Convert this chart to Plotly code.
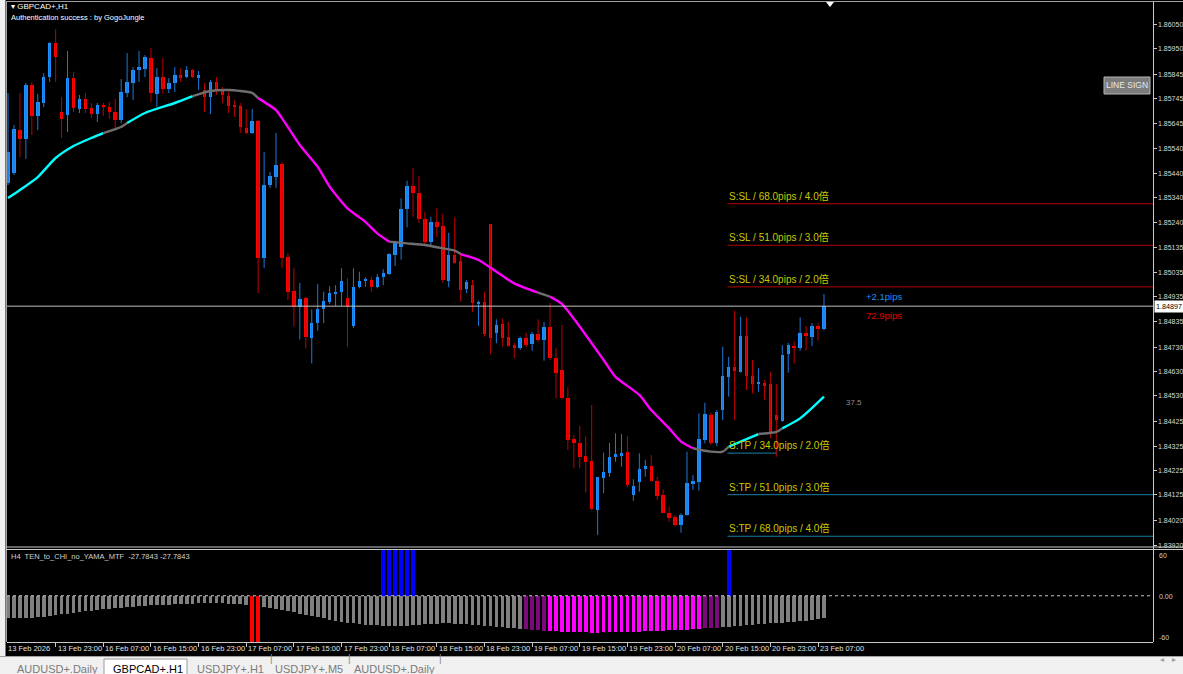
import plotly.graph_objects as go

# ---------------- data ----------------
tick_labels = ["13 Feb 2026", "13 Feb 23:00", "16 Feb 07:00", "16 Feb 15:00", "16 Feb 23:00",
               "17 Feb 07:00", "17 Feb 15:00", "17 Feb 23:00", "18 Feb 07:00", "18 Feb 15:00",
               "18 Feb 23:00", "19 Feb 07:00", "19 Feb 15:00", "19 Feb 23:00", "20 Feb 07:00",
               "20 Feb 15:00", "20 Feb 23:00", "23 Feb 07:00"]
tick_bars = [0, 8, 16, 24, 32, 40, 48, 56, 64, 72, 80, 88, 96, 104, 112, 120, 128, 136]

opens = [1.85401, 1.85442, 1.85617, 1.85581, 1.85801, 1.85675, 1.85728, 1.85834, 1.85973, 1.85691,
         1.85679, 1.85830, 1.85703, 1.85744, 1.85707, 1.85683, 1.85720, 1.85711, 1.85691, 1.85658,
         1.85769, 1.85810, 1.85863, 1.85867, 1.85912, 1.85765, 1.85834, 1.85785, 1.85810, 1.85842,
         1.85834, 1.85863, 1.85834, 1.85781, 1.85752, 1.85814, 1.85785, 1.85756, 1.85720, 1.85716,
         1.85626, 1.85605, 1.85654, 1.85094, 1.85392, 1.85425, 1.85478, 1.85098, 1.84960, 1.84895,
         1.84929, 1.84765, 1.84829, 1.84884, 1.84915, 1.84947, 1.84955, 1.84929, 1.84816, 1.84974,
         1.85001, 1.85004, 1.84976, 1.85017, 1.85028, 1.85106, 1.85138, 1.85293, 1.85388, 1.85361,
         1.85253, 1.85161, 1.85242, 1.85225, 1.85001, 1.85106, 1.85082, 1.84966, 1.84983, 1.84909,
         1.84915, 1.85233, 1.84788, 1.84824, 1.84770, 1.84738, 1.84727, 1.84765, 1.84742, 1.84783,
         1.84758, 1.84810, 1.84684, 1.84636, 1.84520, 1.84352, 1.84336, 1.84284, 1.84265, 1.84063,
         1.84193, 1.84216, 1.84279, 1.84284, 1.84302, 1.84125, 1.84179, 1.84230, 1.84243, 1.84183,
         1.84125, 1.84050, 1.84033, 1.84002, 1.84043, 1.84170, 1.84179, 1.84349, 1.84452, 1.84336,
         1.84472, 1.84608, 1.84649, 1.84629, 1.84775, 1.84611, 1.84579, 1.84581, 1.84579, 1.84452,
         1.84428, 1.84701, 1.84734, 1.84724, 1.84786, 1.84772, 1.84816, 1.84802]
highs = [1.85769, 1.85638, 1.85769, 1.85810, 1.85814, 1.85765, 1.85850, 1.85977, 1.86030, 1.85752,
         1.85941, 1.85855, 1.85761, 1.85769, 1.85728, 1.85728, 1.85728, 1.85732, 1.85744, 1.85826,
         1.85932, 1.85875, 1.85941, 1.85924, 1.85953, 1.85871, 1.85912, 1.85830, 1.85875, 1.85871,
         1.85879, 1.85867, 1.85859, 1.85810, 1.85822, 1.85834, 1.85793, 1.85773, 1.85740, 1.85728,
         1.85703, 1.85703, 1.85658, 1.85527, 1.85446, 1.85605, 1.85487, 1.85114, 1.85052, 1.84993,
         1.84935, 1.84884, 1.84987, 1.84956, 1.84979, 1.84983, 1.85052, 1.85011, 1.85052, 1.85038,
         1.85015, 1.85017, 1.85028, 1.85048, 1.85113, 1.85165, 1.85338, 1.85410, 1.85461, 1.85429,
         1.85283, 1.85263, 1.85297, 1.85274, 1.85197, 1.85260, 1.85113, 1.85004, 1.85004, 1.84919,
         1.84956, 1.85233, 1.84843, 1.84847, 1.84833, 1.84747, 1.84772, 1.84788, 1.84792, 1.84843,
         1.84833, 1.84909, 1.84726, 1.84820, 1.84565, 1.84370, 1.84407, 1.84363, 1.84493, 1.84198,
         1.84298, 1.84338, 1.84377, 1.84374, 1.84366, 1.84189, 1.84295, 1.84268, 1.84288, 1.84199,
         1.84148, 1.84077, 1.84043, 1.84050, 1.84302, 1.84206, 1.84459, 1.84502, 1.84461, 1.84472,
         1.84731, 1.84690, 1.84878, 1.84854, 1.84851, 1.84677, 1.84643, 1.84595, 1.84629, 1.84579,
         1.84738, 1.84747, 1.84752, 1.84851, 1.84816, 1.84827, 1.84827, 1.84947]
lows = [1.85392, 1.85433, 1.85507, 1.85499, 1.85597, 1.85617, 1.85711, 1.85814, 1.85814, 1.85585,
        1.85609, 1.85691, 1.85687, 1.85687, 1.85666, 1.85650, 1.85675, 1.85663, 1.85626, 1.85646,
        1.85752, 1.85740, 1.85814, 1.85834, 1.85732, 1.85711, 1.85765, 1.85769, 1.85773, 1.85814,
        1.85830, 1.85830, 1.85781, 1.85691, 1.85683, 1.85761, 1.85728, 1.85687, 1.85671, 1.85605,
        1.85601, 1.85601, 1.84951, 1.85053, 1.85381, 1.85381, 1.85053, 1.84922, 1.84813, 1.84761,
        1.84724, 1.84663, 1.84797, 1.84827, 1.84906, 1.84898, 1.84898, 1.84731, 1.84808, 1.84970,
        1.84976, 1.84956, 1.84970, 1.84983, 1.85024, 1.85061, 1.85087, 1.85219, 1.85263, 1.85238,
        1.85151, 1.85147, 1.85179, 1.84993, 1.84974, 1.85072, 1.84915, 1.84950, 1.84874, 1.84816,
        1.84772, 1.84701, 1.84745, 1.84731, 1.84731, 1.84684, 1.84718, 1.84729, 1.84715, 1.84751,
        1.84674, 1.84677, 1.84520, 1.84515, 1.84309, 1.84234, 1.84234, 1.84134, 1.84063, 1.83961,
        1.84132, 1.84199, 1.84261, 1.84240, 1.84158, 1.84101, 1.84138, 1.84199, 1.84179, 1.84104,
        1.84050, 1.84015, 1.83995, 1.83970, 1.84040, 1.84145, 1.84142, 1.84336, 1.84330, 1.84325,
        1.84431, 1.84527, 1.84431, 1.84625, 1.84554, 1.84540, 1.84547, 1.84513, 1.84356, 1.84281,
        1.84424, 1.84625, 1.84663, 1.84715, 1.84715, 1.84734, 1.84756, 1.84797]
closes = [1.85527, 1.85621, 1.85581, 1.85801, 1.85675, 1.85732, 1.85834, 1.85973, 1.85916, 1.85663,
          1.85830, 1.85707, 1.85744, 1.85703, 1.85683, 1.85720, 1.85711, 1.85691, 1.85658, 1.85773,
          1.85814, 1.85863, 1.85875, 1.85916, 1.85769, 1.85834, 1.85785, 1.85810, 1.85842, 1.85834,
          1.85863, 1.85834, 1.85842, 1.85752, 1.85814, 1.85781, 1.85761, 1.85716, 1.85711, 1.85630,
          1.85605, 1.85654, 1.85094, 1.85392, 1.85429, 1.85474, 1.85094, 1.84955, 1.84892, 1.84926,
          1.84770, 1.84829, 1.84884, 1.84919, 1.84950, 1.84956, 1.85001, 1.84895, 1.84976, 1.84998,
          1.85007, 1.84976, 1.85017, 1.85034, 1.85110, 1.85154, 1.85293, 1.85388, 1.85361, 1.85253,
          1.85161, 1.85242, 1.85222, 1.85004, 1.85106, 1.85075, 1.84963, 1.84997, 1.84909, 1.84915,
          1.84783, 1.84765, 1.84820, 1.84765, 1.84734, 1.84727, 1.84765, 1.84738, 1.84783, 1.84758,
          1.84810, 1.84684, 1.84625, 1.84520, 1.84349, 1.84336, 1.84281, 1.84261, 1.84066, 1.84197,
          1.84220, 1.84281, 1.84292, 1.84298, 1.84165, 1.84161, 1.84231, 1.84243, 1.84182, 1.84120,
          1.84052, 1.84029, 1.84002, 1.84043, 1.84172, 1.84183, 1.84352, 1.84456, 1.84336, 1.84465,
          1.84611, 1.84649, 1.84633, 1.84775, 1.84611, 1.84579, 1.84585, 1.84574, 1.84374, 1.84431,
          1.84697, 1.84738, 1.84724, 1.84786, 1.84779, 1.84816, 1.84802, 1.84897]

# moving average (read at selected bars) and its colour state per segment
ma_bars = [0, 2, 5, 8, 11, 14, 16, 19, 20, 23, 28, 31, 34, 37, 41, 42, 45, 46, 49, 52, 54, 57, 60,
           62, 64, 67, 70, 72, 75, 76, 79, 82, 85, 89, 91, 93, 96, 100, 102, 106, 108, 111, 113,
           115, 118, 120, 121, 123, 126, 129, 130, 133, 137]
ma_vals = [1.85339, 1.85372, 1.85425, 1.85503, 1.85552, 1.85585, 1.85605, 1.85630, 1.85646, 1.85687,
           1.85728, 1.85756, 1.85777, 1.85781, 1.85769, 1.85748, 1.85699, 1.85666, 1.85556, 1.85467,
           1.85386, 1.85297, 1.85242, 1.85195, 1.85161, 1.85154, 1.85147, 1.85138, 1.85124, 1.85110,
           1.85086, 1.85038, 1.84990, 1.84952, 1.84936, 1.84906, 1.84813, 1.84677, 1.84608, 1.84534,
           1.84472, 1.84397, 1.84343, 1.84316, 1.84302, 1.84302, 1.84322, 1.84343, 1.84374, 1.84383,
           1.84397, 1.84438, 1.84527]
ma_segments = [(0, 16, "up"), (16, 20, "flat"), (20, 31, "up"), (31, 42, "flat"), (42, 64, "down"),
               (64, 76, "flat"), (76, 89, "down"), (89, 91, "flat"), (91, 115, "down"),
               (115, 121, "flat"), (121, 126, "up"), (126, 130, "flat"), (130, 137, "up")]

# TEN_to_CHI_no_YAMA_MTF histogram
hist_vals = [-28, -28, -28, -28, -27.8, -27.5, -26.5, -25.5, -24.5, -23.5,
             -22.5, -21.5, -20.5, -19.5, -18.6, -17.8, -17, -16.2, -15.5, -14.8,
             -14.1, -13.5, -12.9, -12.4, -11.9, -11.5, -11.1, -10.7, -10.3, -10,
             -9.7, -9.4, -9.2, -9.0, -9.0, -9.1, -9.3, -9.6, -10, -10.5,
             -11, -11.8, -12.7, -13.8, -15, -16.3, -17.7, -19.2, -20.8, -22.4,
             -24, -25.6, -27.2, -28.8, -30.3, -31.7, -33, -34.2, -35.2, -36,
             -36.7, -37.3, -37.8, -38.2, -38.5, -38.6, -38.5, -38.2, -37.6, -37,
             -36.4, -35.9, -35.5, -35.3, -35.3, -35.5, -35.8, -36.2, -36.7, -37.3,
             -38, -38.7, -39.4, -40.1, -40.8, -41.5, -42.2, -42.9, -43.5, -44.1,
             -44.6, -45.1, -45.6, -46, -46.4, -46.7, -46.9, -47, -47.1, -47.1,
             -47, -46.9, -46.8, -46.6, -46.4, -46.2, -46, -45.7, -45.4, -45.1,
             -44.8, -44.4, -44, -43.6, -43.2, -42.7, -42.2, -41.7, -41.2, -40.6,
             -40, -39.4, -38.8, -38.2, -37.6, -37, -36.4, -35.8, -35.2, -35,
             -34.5, -34, -33.3, -32.5, -31.5, -30.5, -29.5, -27.7843]
hist_segments = [(87, 90, "weak"), (91, 116, "strong"), (117, 119, "weak")]
sell_signal_bars = [41, 42]
buy_signal_bars = [63, 64, 65, 66, 67, 68, 121]

price_ticks = [1.86050, 1.85950, 1.85845, 1.85745, 1.85645, 1.85540, 1.85440, 1.85340, 1.85240,
               1.85135, 1.85035, 1.84935, 1.84835, 1.84730, 1.84630, 1.84530, 1.84425, 1.84325,
               1.84225, 1.84125, 1.84020, 1.83920]
current_price = 1.84897
entry_price = 1.84636
entry_bar = 120.8
level_pips = [34.0, 51.0, 68.0]
level_mult = [2.0, 3.0, 4.0]
tabs = ["AUDUSD+.Daily", "GBPCAD+.H1", "USDJPY+.H1", "USDJPY+.M5", "AUDUSD+.Daily"]

# ---------------- geometry / style ----------------
W, H = 1183, 674
LM, RM, TM, BM = 7, 30, 3, 32
PW, PH = W - LM - RM, H - TM - BM
BAR_PX, FIRST_PX = 5.956, 8.0
x_range = [(LM - FIRST_PX) / BAR_PX, (W - RM - FIRST_PX) / BAR_PX]
y_range = [1.83912, 1.86137]
FONT = "Liberation Sans, Noto Sans CJK JP, sans-serif"


def px_x(x):
    return (x - LM) / PW


def px_y(y):
    return (H - BM - y) / PH


UP, DN = "#1E90FF", "#FF0000"
UP_W, DN_W = "#1E78D8", "#C00000"
MA_COL = {"up": "#00FFFF", "flat": "#6E6E6E", "down": "#FF00FF"}

n = len(opens)
idx = list(range(n))
fig = go.Figure()

# wicks
for col, up in ((UP_W, True), (DN_W, False)):
    xs, ys = [], []
    for i in idx:
        if (closes[i] >= opens[i]) == up:
            xs += [i, i, None]
            ys += [lows[i], highs[i], None]
    fig.add_trace(go.Scatter(x=xs, y=ys, mode="lines", line=dict(color=col, width=1),
                             hoverinfo="skip", xaxis="x", yaxis="y"))

# bodies
for col, up in ((UP, True), (DN, False)):
    sel = [i for i in idx if (closes[i] >= opens[i]) == up]
    fig.add_trace(go.Bar(
        x=sel,
        y=[max(abs(closes[i] - opens[i]), 0.000025) for i in sel],
        base=[min(opens[i], closes[i]) for i in sel],
        width=0.58, marker=dict(color=col, line=dict(width=0)),
        hoverinfo="skip", xaxis="x", yaxis="y"))

# moving average
for s, e, st in ma_segments:
    xs = [b for b in ma_bars if s <= b <= e]
    ys = [v for b, v in zip(ma_bars, ma_vals) if s <= b <= e]
    fig.add_trace(go.Scatter(x=xs, y=ys, mode="lines",
                             line=dict(color=MA_COL[st], width=2.4, shape="spline", smoothing=0.6),
                             hoverinfo="skip", xaxis="x", yaxis="y"))

# indicator histogram
hcol = ["#808080"] * n
for s, e, st in hist_segments:
    for i in range(s, e + 1):
        hcol[i] = "#FF00FF" if st == "strong" else "#7A0A7A"
fig.add_trace(go.Bar(x=idx, y=hist_vals, width=0.62, marker=dict(color=hcol, line=dict(width=0)),
                     hoverinfo="skip", xaxis="x", yaxis="y2"))
fig.add_trace(go.Bar(x=sell_signal_bars, y=[-60] * len(sell_signal_bars), width=0.62,
                     marker=dict(color="#FF0000", line=dict(width=0)), hoverinfo="skip",
                     xaxis="x", yaxis="y2"))
fig.add_trace(go.Bar(x=buy_signal_bars, y=[60] * len(buy_signal_bars), width=0.62,
                     marker=dict(color="#0000FF", line=dict(width=0)), hoverinfo="skip",
                     xaxis="x", yaxis="y2"))

shapes = []
ann = []
GRID = "#C8C8C8"

# SL / TP levels
for p, m in zip(level_pips, level_mult):
    sl = entry_price + p * 0.0001
    tp = entry_price - p * 0.0001
    shapes.append(dict(type="line", xref="x", yref="y", x0=entry_bar, x1=x_range[1], y0=sl, y1=sl,
                       line=dict(color="#B40000", width=1)))
    tp_end = x_range[1] if m > 2.0 else 129
    shapes.append(dict(type="line", xref="x", yref="y", x0=entry_bar, x1=tp_end, y0=tp, y1=tp,
                       line=dict(color="#1C7FA6", width=1)))
    for lvl, tag in ((sl, "S:SL"), (tp, "S:TP")):
        ann.append(dict(xref="x", yref="y", x=entry_bar, y=lvl, xanchor="left", yanchor="bottom",
                        yshift=0, showarrow=False,
                        text=f"{tag} / {p:.1f}pips / {m:.1f}倍",
                        font=dict(family=FONT, size=10, color="#C8C800")))

# current price line + label
shapes.append(dict(type="line", xref="paper", yref="y", x0=0, x1=1, y0=current_price, y1=current_price,
                   line=dict(color="#C0C0C0", width=1)))
ann.append(dict(xref="paper", yref="y", x=px_x(1154), y=current_price, xanchor="left", yanchor="middle",
                showarrow=False, text=f"{current_price:.5f}", bgcolor="#FFFFFF",
                font=dict(family=FONT, size=7.2, color="#000000"), borderpad=1))
ann.append(dict(xref="x", yref="y", x=143.8, y=current_price, xanchor="left", yanchor="bottom",
                yshift=2, showarrow=False, text="+2.1pips",
                font=dict(family=FONT, size=9.5, color="#1E90FF")))
ann.append(dict(xref="x", yref="y", x=143.8, y=current_price, xanchor="left", yanchor="top",
                yshift=-2, showarrow=False, text="72.9pips",
                font=dict(family=FONT, size=9.5, color="#E00000")))
ann.append(dict(xref="x", yref="y", x=140.4, y=1.84501, xanchor="left", yanchor="middle",
                showarrow=False, text="37.5", font=dict(family=FONT, size=8, color="#8C8C8C")))

# price scale labels
for v in price_ticks:
    ann.append(dict(xref="paper", yref="y", x=px_x(1156.5), y=v, xanchor="left", yanchor="middle",
                    showarrow=False, text=f"{v:.5f}", borderpad=0,
                    font=dict(family=FONT, size=7, color="#D8D8D8")))

# frame lines
shapes += [
    dict(type="rect", xref="paper", yref="paper", x0=px_x(0), x1=px_x(5.5), y0=px_y(656), y1=px_y(0),
         fillcolor="#F0F0F0", line=dict(width=0), layer="above"),
    dict(type="line", xref="paper", yref="paper", x0=px_x(6.5), x1=px_x(6.5), y0=px_y(642), y1=px_y(1.5),
         line=dict(color="#A0A0A0", width=1)),
    dict(type="line", xref="paper", yref="paper", x0=px_x(6), x1=px_x(1183), y0=px_y(1.5), y1=px_y(1.5),
         line=dict(color="#A0A0A0", width=1)),
    dict(type="line", xref="paper", yref="paper", x0=px_x(6), x1=px_x(1183), y0=px_y(547), y1=px_y(547),
         line=dict(color=GRID, width=1)),
    dict(type="line", xref="paper", yref="paper", x0=px_x(6), x1=px_x(1183), y0=px_y(549.5), y1=px_y(549.5),
         line=dict(color=GRID, width=1)),
    dict(type="line", xref="paper", yref="paper", x0=px_x(1153.5), x1=px_x(1153.5), y0=px_y(642), y1=px_y(2),
         line=dict(color=GRID, width=1)),
    dict(type="line", xref="paper", yref="y2", x0=0, x1=1, y0=0, y1=0,
         line=dict(color="#C8C8C8", width=1, dash="dot")),
    # chart shift marker
    dict(type="path", xref="paper", yref="paper",
         path=f"M {px_x(826)} {px_y(2)} L {px_x(834)} {px_y(2)} L {px_x(830)} {px_y(7)} Z",
         fillcolor="#FFFFFF", line=dict(width=0)),
    # tab bar
    dict(type="rect", xref="paper", yref="paper", x0=px_x(0), x1=px_x(1183), y0=px_y(674), y1=px_y(657),
         fillcolor="#F0F0F0", line=dict(width=0), layer="above"),
    dict(type="line", xref="paper", yref="paper", x0=px_x(0), x1=px_x(1183), y0=px_y(656.5), y1=px_y(656.5),
         line=dict(color="#A0A0A0", width=1)),
    dict(type="rect", xref="paper", yref="paper", x0=px_x(104), x1=px_x(187), y0=px_y(675), y1=px_y(659),
         fillcolor="#FFFFFF", line=dict(color="#9A9A9A", width=1), layer="above"),
    # LINE SIGN button
    dict(type="rect", xref="paper", yref="paper", x0=px_x(1104), x1=px_x(1150), y0=px_y(94), y1=px_y(77),
         fillcolor="#7C7C7C", line=dict(color="#B4B4B4", width=1), layer="above"),
]
ann.append(dict(xref="paper", yref="paper", x=px_x(1127), y=px_y(85.5), xanchor="center", yanchor="middle",
                showarrow=False, text="LINE SIGN",
                font=dict(family=FONT, size=8.5, color="#E8E8E8")))

# header texts
ann.append(dict(xref="paper", yref="paper", x=px_x(9), y=px_y(7), xanchor="left", yanchor="middle",
                showarrow=False, text="▾ GBPCAD+,H1", font=dict(family=FONT, size=8, color="#FFFFFF")))
ann.append(dict(xref="paper", yref="paper", x=px_x(9), y=px_y(17.5), xanchor="left", yanchor="middle",
                showarrow=False, text="Authentication success : by GogoJungle",
                font=dict(family=FONT, size=7.5, color="#FFFFFF")))
ann.append(dict(xref="paper", yref="paper", x=px_x(9), y=px_y(556), xanchor="left", yanchor="middle",
                showarrow=False, text="H4  TEN_to_CHI_no_YAMA_MTF  -27.7843 -27.7843",
                font=dict(family=FONT, size=7.5, color="#D0D0D0")))

# indicator scale labels
for v, yy in ((60, 555), (0, 596), (-60, 637)):
    ann.append(dict(xref="paper", yref="paper", x=px_x(1157), y=px_y(yy), xanchor="left", yanchor="middle",
                    showarrow=False, text=("0.00" if v == 0 else str(v)),
                    font=dict(family=FONT, size=7, color="#D0D0D0")))

# time labels
for b, t in zip(tick_bars, tick_labels):
    ann.append(dict(xref="x", yref="paper", x=b, y=px_y(648.5), xanchor="left", yanchor="middle",
                    xshift=(-2 if b == 0 else 0), showarrow=False, text=t,
                    font=dict(family=FONT, size=7.5, color="#E0E0E0")))

# tabs
tab_x = [15, 111, 195, 273, 352]
for k, (t, tx) in enumerate(zip(tabs, tab_x)):
    ann.append(dict(xref="paper", yref="paper", x=px_x(tx), y=px_y(668.5), xanchor="left", yanchor="middle",
                    showarrow=False, text=t,
                    font=dict(family=FONT, size=11, color=("#000000" if k == 1 else "#7A7A7A"))))
for sx in (268, 346, 440):
    ann.append(dict(xref="paper", yref="paper", x=px_x(sx), y=px_y(666), showarrow=False, text="|",
                    font=dict(family=FONT, size=10, color="#8A8A8A")))
ann.append(dict(xref="paper", yref="paper", x=px_x(1166), y=px_y(666), showarrow=False, text="◂",
                font=dict(family=FONT, size=8, color="#A0A0A0")))
ann.append(dict(xref="paper", yref="paper", x=px_x(1178), y=px_y(666), showarrow=False, text="▸",
                font=dict(family=FONT, size=8, color="#A0A0A0")))

fig.update_layout(
    width=W, height=H, margin=dict(l=LM, r=RM, t=TM, b=BM),
    paper_bgcolor="#000000", plot_bgcolor="#000000",
    showlegend=False, barmode="overlay", bargap=0,
    xaxis=dict(domain=[0, 1], anchor="y2", range=x_range, showgrid=False, zeroline=False,
               tickvals=tick_bars[1:], ticks="outside", ticklen=4, tickcolor=GRID,
               showticklabels=False, showline=True, linecolor=GRID, linewidth=1),
    yaxis=dict(domain=[px_y(547), 1], range=y_range, side="right", showgrid=False, zeroline=False,
               tickvals=price_ticks, ticks="outside", ticklen=3, tickcolor=GRID,
               showticklabels=False, anchor="x"),
    yaxis2=dict(domain=[0, px_y(549.5)], range=[-60, 60], side="right", showgrid=False, zeroline=False,
                showticklabels=False, ticks="", anchor="x"),
    shapes=shapes, annotations=ann,
    hovermode=False,
)

fig.write_html("out.html", config={"displayModeBar": False},
               post_script="document.body.style.margin='0';document.body.style.padding='0';"
                           "document.body.style.overflow='hidden';")
